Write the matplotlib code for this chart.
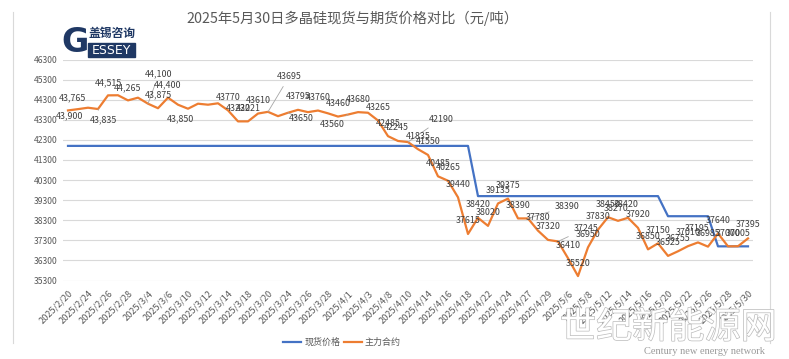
import numpy as np
import matplotlib.pyplot as plt
from matplotlib.patches import Rectangle
from matplotlib.lines import Line2D
import matplotlib.patheffects as pe

plt.rcParams['font.family'] = ['Noto Sans CJK SC', 'DejaVu Sans']

# ----------------------------
# Data
# ----------------------------
dates = ["2025/2/20", "2025/2/21", "2025/2/24", "2025/2/25", "2025/2/26", "2025/2/27", "2025/2/28",
         "2025/3/3", "2025/3/4", "2025/3/5", "2025/3/6", "2025/3/7", "2025/3/10", "2025/3/11",
         "2025/3/12", "2025/3/13", "2025/3/14", "2025/3/17", "2025/3/18", "2025/3/19", "2025/3/20",
         "2025/3/21", "2025/3/24", "2025/3/25", "2025/3/26", "2025/3/27", "2025/3/28", "2025/3/31",
         "2025/4/1", "2025/4/2", "2025/4/3", "2025/4/7", "2025/4/8", "2025/4/9", "2025/4/10",
         "2025/4/11", "2025/4/14", "2025/4/15", "2025/4/16", "2025/4/17", "2025/4/18", "2025/4/21",
         "2025/4/22", "2025/4/23", "2025/4/24", "2025/4/25", "2025/4/27", "2025/4/28", "2025/4/29",
         "2025/4/30", "2025/5/6", "2025/5/7", "2025/5/8", "2025/5/9", "2025/5/12", "2025/5/13",
         "2025/5/14", "2025/5/15", "2025/5/16", "2025/5/19", "2025/5/20", "2025/5/21", "2025/5/22",
         "2025/5/23", "2025/5/26", "2025/5/27", "2025/5/28", "2025/5/29", "2025/5/30"]

spot = [42000] * 41 + [39500] * 19 + [38500] * 5 + [37000] * 4

futures = [43765, 43830, 43900, 43835, 44515, 44520, 44265, 44400, 44100, 43875,
           44400, 44050, 43850, 44100, 44050, 44120, 43770, 43220, 43221, 43610,
           43695, 43480, 43650, 43795, 43680, 43760, 43620, 43460, 43560, 43680,
           43650, 43265, 42485, 42245, 42190, 41835, 41550, 40485, 40265, 39440,
           37615, 38420, 38020, 39135, 39375, 38390, 38390, 37780, 37320, 37245,
           36410, 35520, 36950, 37830, 38450, 38270, 38420, 37920, 36850, 37150,
           36525, 36755, 37010, 37195, 36985, 37640, 37000, 37005, 37395]

# which points carry a data label, and where the label sits (pixels from the point)
label_idx = [0, 2, 3, 4, 6, 8, 9, 10, 12, 16, 17, 18, 19, 20, 22, 23, 25, 27, 28, 29,
             31, 32, 33, 34, 35, 36, 37, 38, 39, 40, 41, 42, 43, 44, 45, 46, 47, 48, 49,
             50, 51, 52, 53, 54, 55, 56, 57, 58, 59, 60, 61, 62, 63, 64, 65, 66, 67, 68]
label_off = {0: (4, 13), 2: (-18, -8), 3: (5, -11), 8: (11, 30), 12: (-8, -10),
             20: (21, 35), 22: (13, -6), 28: (-16, -10), 33: (-2, 13), 34: (33, 23),
             46: (39, 12), 49: (28, 13), 55: (-2, 12), 56: (-2, 13), 62: (0, 14), 63: (-1, 14),
             68: (0, 14)}
leader_idx = [3, 8, 20, 22, 28, 34, 46, 49]
comma_upto = 12

title = "2025年5月30日多晶硅现货与期货价格对比（元/吨）"
blue = "#4472C4"
orange = "#ED7D31"
grey_txt = "#595959"

# ----------------------------
# Figure
# ----------------------------
fig = plt.figure(figsize=(7.89, 3.59), dpi=100)
ax = fig.add_axes([63 / 789, 1 - 280.5 / 359, 690 / 789, 221 / 359])

x = np.arange(len(dates))
ax.plot(x, spot, color=blue, lw=1.6, label="现货价格", zorder=3)
ax.plot(x, futures, color=orange, lw=1.6, label="主力合约", zorder=3)

for i in label_idx:
    v = futures[i]
    txt = f"{v:,}" if i <= comma_upto else f"{v}"
    dx, dy = label_off.get(i, (0, 13))
    arrow = None
    if i in leader_idx:
        arrow = dict(arrowstyle='-', color='#A6A6A6', lw=0.6, shrinkA=2, shrinkB=0)
    ax.annotate(txt, (i, v), xytext=(dx, dy), textcoords='offset pixels',
                ha='center', va='center', fontsize=6.4, color='#404040',
                arrowprops=arrow, zorder=4)

ax.set_xlim(-0.5, len(dates) - 0.5)
ax.set_ylim(35300, 46300)
ax.set_yticks(np.arange(35300, 46301, 1000))
ax.set_xticks(x[::2])
ax.set_xticklabels(dates[::2], rotation=45, ha='right', va='top', rotation_mode='anchor')
ax.tick_params(axis='both', length=0, labelsize=6.2, colors=grey_txt)
ax.tick_params(axis='x', pad=6, labelsize=6.6)
ax.tick_params(axis='y', pad=4)
ax.yaxis.grid(True, color='#D9D9D9', lw=0.8)
ax.set_axisbelow(True)
for s in ax.spines.values():
    s.set_visible(False)

fig.text(352 / 789, 1 - 18 / 359, title, ha='center', va='center', fontsize=10.3, color=grey_txt)

fig.legend(loc='center', bbox_to_anchor=(342 / 789, 1 - 342 / 359), ncol=2, frameon=False,
           fontsize=6.5, handlelength=2.0, columnspacing=0.4, handletextpad=0.3,
           labelcolor=grey_txt)

# chart frame edges
fig.add_artist(Line2D([13 / 789, 13 / 789], [1 - 12 / 359, 1 - 343 / 359], color='#D9D9D9', lw=0.8))
fig.add_artist(Line2D([770 / 789, 770 / 789], [1 - 12 / 359, 1 - 343 / 359], color='#D9D9D9', lw=0.8))

# logo
navy = "#1F3864"
fig.add_artist(Rectangle((88 / 789, 1 - 57 / 359), 47 / 789, 14 / 359, color=navy))
fig.text(75 / 789, 1 - 43 / 359, "G", ha='center', va='center', fontsize=24, fontweight='bold',
         color=navy, family=['DejaVu Sans'])
fig.text(111 / 789, 1 - 50 / 359, "ESSEY", ha='center', va='center', fontsize=9, color='white',
         family=['DejaVu Sans'])
fig.text(112 / 789, 1 - 33 / 359, "盖锡咨询", ha='center', va='center', fontsize=8.5,
         fontweight='bold', color=navy)

# watermark
fig.text(560 / 789, 1 - 328 / 359, "世纪新能源网", ha='left', va='center', fontsize=26, color='white',
         path_effects=[pe.Stroke(linewidth=1, foreground='#BBBBBB'), pe.Normal()])
fig.text(704 / 789, 1 - 352 / 359, "Century new energy network", ha='center', va='center',
         fontsize=7.5, color='#9A9A9A', family=['Liberation Serif'])

fig.savefig("out.png", dpi=100)
